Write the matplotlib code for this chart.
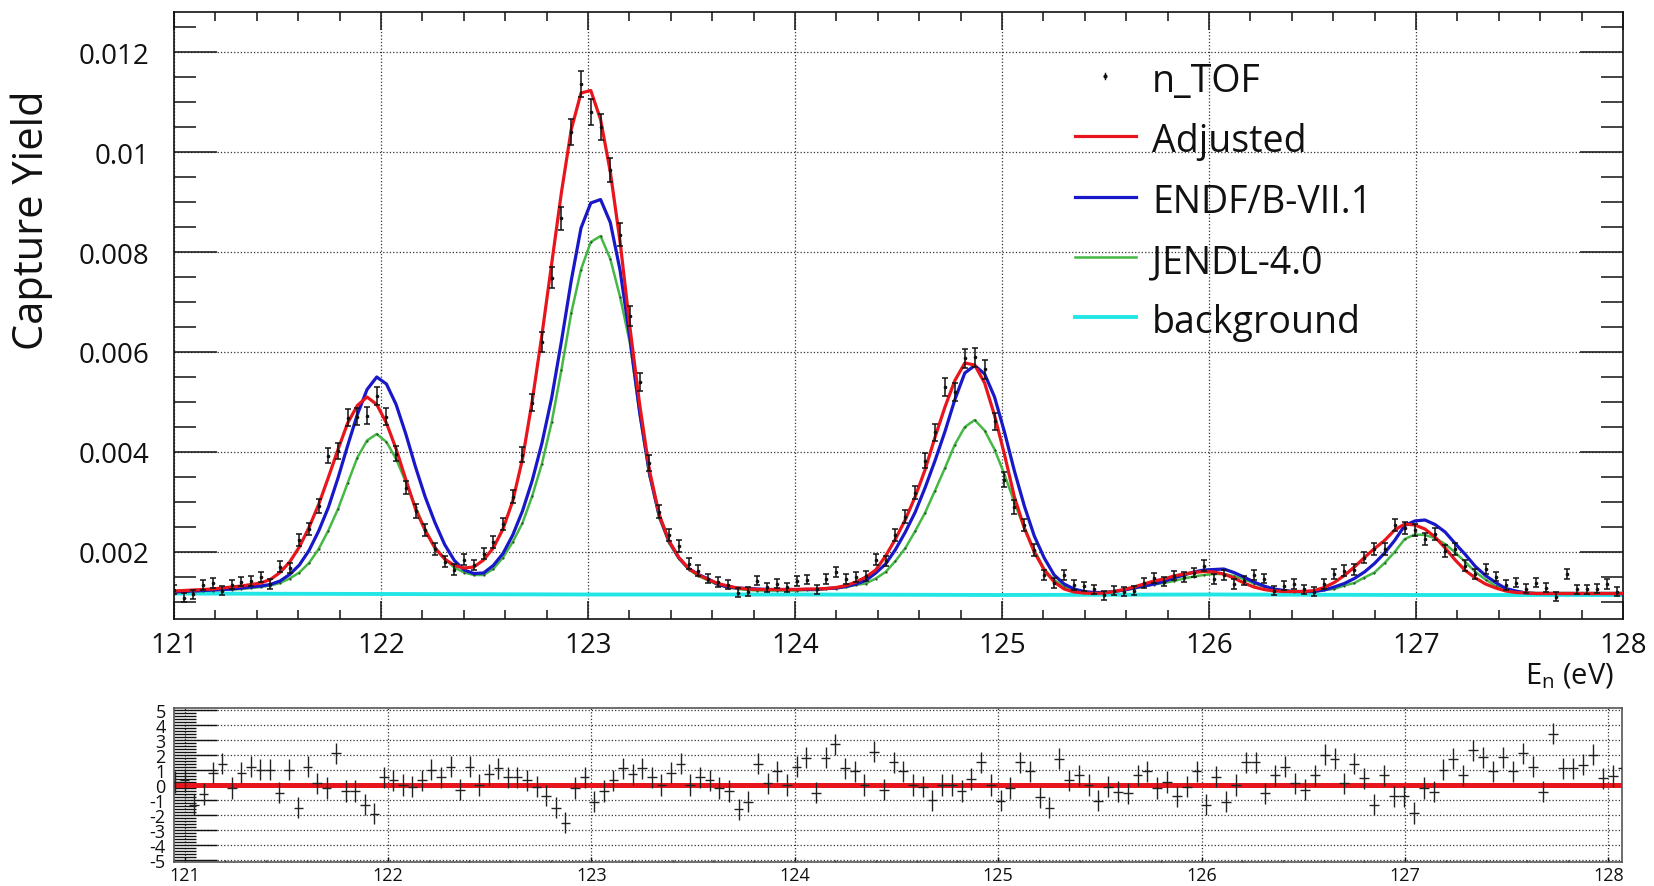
import numpy as np
import matplotlib
matplotlib.use("Agg")
import matplotlib.pyplot as plt
from matplotlib.lines import Line2D
from matplotlib.ticker import MultipleLocator, FuncFormatter
from matplotlib import font_manager

plt.rcParams['font.family'] = ['Open Sans', 'DejaVu Sans']
plt.rcParams['axes.unicode_minus'] = False
plt.rcParams['mathtext.fontset'] = 'custom'
plt.rcParams['mathtext.rm'] = 'Open Sans'

installed = {f.name for f in font_manager.fontManager.ttflist}
small_font = 'Liberation Sans Narrow' if 'Liberation Sans Narrow' in installed else 'Open Sans'

# log-spaced time-of-flight bins (bin centres, eV)
energy = np.geomspace(120.954, 128.12, 151)

# capture yield, units of 1e-4
ntof = [12.6, 12.5, 10.9, 11.6, 13.4, 13.8, 12.3, 13.5, 14.1, 14.2,
        15.0, 13.6, 17.1, 16.8, 22.5, 24.7, 29.2, 39.3, 40.2, 46.9,
        47.1, 47.3, 51.2, 47.1, 39.7, 32.9, 28.2, 24.5, 20.6, 18.1,
        16.5, 18.5, 17.4, 19.7, 22.1, 25.6, 31.1, 39.5, 49.9, 62.0,
        74.9, 86.8, 104.0, 113.7, 108.0, 105.1, 96.5, 83.5, 67.3, 54.0,
        37.8, 28.1, 23.5, 21.3, 17.7, 16.3, 14.7, 14.0, 13.5, 11.9,
        12.1, 14.3, 13.0, 13.7, 13.0, 14.2, 14.5, 12.6, 14.6, 16.0,
        14.6, 15.0, 15.2, 18.5, 18.2, 23.4, 27.1, 31.9, 38.3, 44.0,
        53.0, 52.1, 58.8, 59.0, 56.6, 46.2, 34.5, 29.0, 25.5, 20.5,
        15.4, 13.8, 15.4, 13.4, 13.2, 12.6, 11.4, 12.3, 12.1, 12.3,
        13.8, 14.8, 14.1, 15.3, 15.0, 15.9, 17.3, 14.6, 15.4, 13.6,
        14.3, 15.4, 14.7, 12.3, 13.3, 13.6, 12.6, 12.1, 13.6, 15.6,
        16.3, 16.5, 18.9, 20.6, 20.6, 25.5, 24.9, 24.5, 22.6, 23.6,
        20.3, 20.6, 17.3, 15.6, 16.6, 15.1, 13.4, 13.9, 12.7, 13.9,
        12.9, 11.1, 15.6, 12.6, 12.6, 12.7, 13.6, 12.1, 12.3, 12.6,
        11.1]
ntof_err = [0.9, 0.9, 0.85, 0.9, 0.95, 0.95, 0.9, 0.95, 0.95, 0.95,
            0.95, 0.95, 1.05, 1.05, 1.2, 1.2, 1.35, 1.55, 1.55, 1.7,
            1.7, 1.7, 1.8, 1.7, 1.55, 1.35, 1.35, 1.2, 1.2, 1.05,
            1.05, 1.05, 1.05, 1.05, 1.2, 1.2, 1.35, 1.55, 1.7, 2.0,
            2.15, 2.3, 2.6, 2.6, 2.6, 2.6, 2.4, 2.3, 2.0, 1.8,
            1.55, 1.35, 1.2, 1.2, 1.05, 1.05, 0.95, 0.95, 0.95, 0.9,
            0.9, 0.95, 0.9, 0.95, 0.9, 0.95, 0.95, 0.9, 0.95, 1.0,
            0.95, 0.95, 0.95, 1.05, 1.05, 1.2, 1.35, 1.35, 1.55, 1.7,
            1.8, 1.8, 1.9, 1.9, 1.9, 1.7, 1.55, 1.35, 1.2, 1.2,
            0.95, 0.95, 0.95, 0.95, 0.9, 0.9, 0.9, 0.9, 0.9, 0.9,
            0.95, 0.95, 0.95, 0.95, 0.95, 0.95, 1.05, 0.95, 0.95, 0.95,
            0.95, 0.95, 0.95, 0.9, 0.95, 0.95, 0.9, 0.9, 0.95, 0.95,
            1.05, 1.05, 1.05, 1.2, 1.2, 1.2, 1.2, 1.2, 1.2, 1.2,
            1.2, 1.2, 1.05, 0.95, 1.05, 0.95, 0.95, 0.95, 0.9, 0.95,
            0.9, 0.9, 0.95, 0.9, 0.9, 0.9, 0.95, 0.9, 0.9, 0.9,
            0.9]
adjusted = [12.1, 12.2, 12.3, 12.4, 12.5, 12.6, 12.8, 13.0, 13.2, 13.5,
            13.8, 14.5, 15.9, 18.0, 21.0, 24.9, 29.5, 34.9, 40.5, 45.8,
            49.3, 51.0, 49.5, 45.8, 40.6, 34.5, 28.6, 24.3, 20.8, 18.6,
            17.3, 16.8, 17.0, 18.4, 20.8, 24.6, 30.2, 38.6, 50.2, 63.5,
            77.8, 92.0, 104.5, 111.8, 112.3, 106.5, 96.0, 82.0, 65.0, 49.5,
            36.3, 27.4, 22.2, 18.9, 16.7, 15.4, 14.5, 13.7, 13.2, 12.8,
            12.6, 12.5, 12.5, 12.5, 12.5, 12.5, 12.6, 12.6, 12.7, 12.9,
            13.3, 14.0, 15.0, 16.4, 19.2, 22.6, 26.5, 31.1, 36.5, 43.0,
            49.0, 54.3, 57.8, 57.4, 53.8, 47.3, 39.5, 31.0, 24.8, 20.0,
            16.4, 14.0, 12.6, 12.0, 11.8, 11.7, 11.8, 12.1, 12.5, 13.0,
            13.6, 14.2, 14.6, 15.2, 15.6, 15.9, 16.1, 16.0, 15.6, 14.8,
            13.8, 13.0, 12.5, 12.2, 12.1, 12.1, 12.1, 12.3, 12.9, 13.9,
            15.3, 17.0, 18.9, 20.7, 22.3, 24.4, 25.6, 25.4, 24.6, 23.0,
            20.8, 18.4, 16.3, 14.8, 13.6, 12.8, 12.2, 11.9, 11.8, 11.7,
            11.7, 11.7, 11.7, 11.7, 11.7, 11.7, 11.7, 11.7, 11.7, 11.7,
            11.7]
endf = [11.9, 12.0, 12.1, 12.2, 12.3, 12.4, 12.5, 12.6, 12.8, 13.0,
        13.2, 13.5, 14.2, 15.5, 17.4, 20.3, 24.2, 28.9, 34.8, 41.3,
        47.5, 52.5, 55.0, 53.6, 49.5, 43.6, 37.0, 31.0, 25.9, 21.5,
        18.3, 16.4, 15.7, 15.8, 17.3, 19.7, 23.4, 28.2, 34.3, 41.8,
        50.9, 62.2, 74.3, 84.8, 89.8, 90.5, 85.9, 76.3, 62.8, 47.9,
        35.7, 27.2, 22.1, 18.8, 16.7, 15.5, 14.6, 13.5, 13.0, 12.8,
        12.7, 12.6, 12.5, 12.5, 12.5, 12.5, 12.5, 12.5, 12.7, 12.8,
        13.1, 13.6, 14.3, 15.8, 17.6, 20.5, 24.0, 28.0, 32.9, 38.3,
        44.1, 50.5, 55.8, 57.3, 55.6, 51.0, 44.0, 36.2, 29.2, 23.2,
        18.8, 15.4, 13.6, 12.6, 12.1, 11.9, 11.9, 12.1, 12.4, 12.8,
        13.2, 13.6, 14.1, 14.8, 15.4, 16.0, 16.4, 16.5, 16.6, 15.9,
        15.0, 14.0, 13.2, 12.6, 12.3, 12.1, 12.1, 12.1, 12.4, 13.0,
        13.7, 14.7, 16.0, 17.7, 19.8, 22.3, 25.3, 26.2, 26.4, 25.5,
        24.0, 21.7, 19.5, 17.1, 15.3, 13.9, 12.7, 12.2, 11.8, 11.7,
        11.7, 11.7, 11.7, 11.7, 11.7, 11.7, 11.7, 11.7, 11.7, 11.7,
        11.7]
jendl = [11.8, 11.9, 12.0, 12.1, 12.2, 12.3, 12.4, 12.5, 12.6, 12.8,
         13.0, 13.3, 13.8, 14.7, 15.9, 17.8, 20.6, 24.3, 28.6, 33.8,
         38.9, 42.3, 43.6, 42.0, 38.6, 34.0, 29.0, 24.5, 21.0, 18.6,
         16.9, 15.9, 15.4, 15.4, 16.6, 18.9, 22.0, 25.8, 31.2, 37.7,
         46.0, 56.5, 67.8, 76.5, 82.0, 83.2, 78.6, 71.0, 61.8, 47.5,
         35.3, 26.8, 21.8, 18.7, 16.5, 15.2, 14.3, 13.4, 12.9, 12.6,
         12.4, 12.3, 12.3, 12.3, 12.3, 12.3, 12.4, 12.4, 12.6, 12.7,
         13.0, 13.4, 13.7, 14.7, 16.0, 18.2, 20.8, 24.2, 27.9, 32.3,
         36.8, 41.5, 45.0, 46.4, 44.3, 40.5, 35.5, 29.9, 24.8, 20.4,
         16.6, 14.4, 13.1, 12.3, 11.9, 11.9, 11.9, 12.1, 12.3, 12.7,
         13.1, 13.5, 13.8, 14.2, 14.7, 15.1, 15.4, 15.6, 15.6, 15.2,
         14.6, 13.7, 13.1, 12.6, 12.3, 12.1, 12.1, 12.1, 12.4, 12.6,
         13.3, 13.8, 14.9, 15.9, 17.8, 20.0, 22.6, 23.5, 23.4, 22.8,
         21.6, 19.9, 18.0, 16.0, 14.5, 13.2, 12.5, 12.1, 11.9, 11.8,
         11.8, 11.8, 11.8, 11.8, 11.8, 11.8, 11.8, 11.8, 11.8, 11.8,
         11.8]
bkg_energy = [120.95, 122.0, 123.0, 124.0, 125.0, 126.0, 127.0, 128.12]
bkg = [11.7, 11.6, 11.5, 11.5, 11.4, 11.5, 11.4, 11.4]

# normalised residuals (data - adjusted) / error
residual = [0.2, 0.3, -1.3, -0.6, 0.8, 1.4, -0.2, 0.8, 1.2, 1.0,
            1.0, -0.5, 1.0, -1.5, 1.2, 0.1, -0.2, 2.1, -0.4, -0.4,
            -1.3, -1.9, 0.5, 0.3, 0.0, -0.1, 0.3, 1.0, 0.5, 1.2,
            -0.3, 1.2, 0.0, 0.7, 1.1, 0.5, 0.5, 0.3, -0.1, -0.7,
            -1.5, -2.5, -0.2, 0.5, -1.1, -0.4, 0.3, 1.1, 0.7, 1.1,
            0.5, 0.0, 0.8, 1.4, 0.0, 0.5, 0.3, -0.2, -0.4, -1.6,
            -1.1, 1.4, 0.1, 0.9, 0.0, 1.2, 1.8, -0.5, 1.8, 2.7,
            1.1, 0.9, 0.0, 2.2, -0.3, 1.5, 0.9, 0.0, -0.1, -1.0,
            0.0, 0.0, -0.4, 0.4, 1.5, 0.0, -1.05, -0.2, 1.5, 0.9,
            -0.8, -1.5, 1.75, 0.3, 0.65, 0.0, -1.05, -0.1, -0.45, -0.55,
            0.65, 0.9, -0.2, 0.2, -0.75, -0.1, 0.9, -1.3, 0.55, -1.1,
            0.0, 1.5, 1.5, -0.55, 0.65, 1.2, 0.1, -0.3, 0.65, 2.0,
            1.75, 0.1, 1.4, 0.45, -1.3, 0.65, -0.75, -0.75, -1.85, -0.2,
            -0.45, 1.0, 1.75, 0.65, 2.3, 1.85, 0.9, 1.85, 0.9, 2.1,
            1.2, -0.45, 3.4, 1.1, 1.1, 1.35, 2.0, 0.45, 0.6, 1.1,
            -0.75]
residual_err = 0.7
zero_line = [0.0, 0.0]

RED, BLUE, GREEN, CYAN = '#e8161c', '#1818c8', '#45b845', '#22e6e6'
W, H = 1654, 887


def fx(x):
    return x / W


def fy(y):
    return 1 - y / H


def box(l, t, r, b):
    return [fx(l), fy(b), (r - l) / W, (b - t) / H]


fig = plt.figure(figsize=(W / 100, H / 100), dpi=100)
ax = fig.add_axes(box(174, 13, 1623, 620))
rax = fig.add_axes(box(174, 709, 1622, 863))

scale = 1e-4
ax.plot(bkg_energy, np.array(bkg) * scale, color=CYAN, lw=2.8, zorder=2)
ax.plot(energy, np.array(jendl) * scale, color=GREEN, lw=1.8, zorder=3,
        marker='o', ms=1.6, mfc='#2a4a2a', mec='none')
ax.plot(energy, np.array(endf) * scale, color=BLUE, lw=2.3, zorder=3)
ax.plot(energy, np.array(adjusted) * scale, color=RED, lw=2.3, zorder=4)
ax.errorbar(energy, np.array(ntof) * scale, yerr=np.array(ntof_err) * scale,
            fmt='o', ms=1.6, color='#111111', elinewidth=1.1, capsize=2.3,
            capthick=1.1, zorder=5)

ax.set_xlim(121, 128)
ax.set_ylim(0.00066, 0.0128)
ax.xaxis.set_major_locator(MultipleLocator(1))
ax.xaxis.set_minor_locator(MultipleLocator(0.2))
ax.yaxis.set_major_locator(MultipleLocator(0.002))
ax.yaxis.set_minor_locator(MultipleLocator(0.0005))
ax.yaxis.set_major_formatter(FuncFormatter(lambda v, p: f'{v:g}'))
ax.tick_params(which='both', direction='in', top=True, right=True, width=1.1,
               colors='#111111', labelsize=20)
ax.tick_params(axis='y', which='major', length=31, pad=18)
ax.tick_params(axis='y', which='minor', length=15.5)
ax.tick_params(axis='x', which='major', length=13, pad=9)
ax.tick_params(axis='x', which='minor', length=6.5)
ax.grid(which='major', linestyle=':', color='#333333', lw=0.9)
for s in ax.spines.values():
    s.set_linewidth(1.2)
    s.set_color('#111111')

fig.text(fx(32), fy(220), 'Capture Yield', rotation=90, ha='center',
         va='center', fontsize=30, color='#111111')
fig.text(fx(1614), fy(684), r'E$_{\mathrm{n}}$ (eV)', ha='right',
         va='baseline', fontsize=21, color='#111111')

# legend
rows = ['n_TOF', 'Adjusted', 'ENDF/B-VII.1', 'JENDL-4.0', 'background']
row_colors = [None, RED, BLUE, GREEN, CYAN]
row_widths = [0, 2.3, 2.3, 1.8, 2.8]
for i, (label, c, lw) in enumerate(zip(rows, row_colors, row_widths)):
    base = 92 + 60.3 * i
    mid = base - 15
    if c is None:
        fig.lines.append(Line2D([fx(1105), fx(1105)], [fy(mid - 3), fy(mid + 3)],
                                transform=fig.transFigure, color='#111111', lw=1))
        fig.lines.append(Line2D([fx(1105)], [fy(mid)], transform=fig.transFigure,
                                marker='o', ms=2, color='#111111'))
    else:
        fig.lines.append(Line2D([fx(1075), fx(1136)], [fy(mid), fy(mid)],
                                transform=fig.transFigure, color=c, lw=lw))
    fig.text(fx(1152), fy(base), label, fontsize=27, va='baseline',
             color='#111111')

# residual panel
half_width = np.gradient(energy) / 2
rax.plot([energy[0], energy[-1]], zero_line, color=RED, lw=3.6, zorder=2)
rax.errorbar(energy, residual, xerr=half_width, yerr=residual_err, fmt='none',
             ecolor='#222222', elinewidth=1.0, zorder=3)
rax.set_xlim(120.948, 128.067)
rax.set_ylim(-5.1, 5.1)
rax.xaxis.set_major_locator(MultipleLocator(1))
rax.xaxis.set_minor_locator(MultipleLocator(0.2))
rax.yaxis.set_major_locator(MultipleLocator(1))
rax.yaxis.set_minor_locator(MultipleLocator(0.2))
rax.tick_params(which='both', direction='in', top=False, right=False, width=1.0,
                colors='#111111', labelsize=13)
rax.tick_params(axis='y', which='major', length=31, pad=6)
rax.tick_params(axis='y', which='minor', length=15.5)
rax.tick_params(axis='x', which='major', length=3.5, pad=3)
rax.tick_params(axis='x', which='minor', length=1.8)
for lab in rax.get_xticklabels() + rax.get_yticklabels():
    lab.set_fontfamily([small_font, 'DejaVu Sans'])
rax.grid(which='major', linestyle=':', color='#333333', lw=0.9)
for s in rax.spines.values():
    s.set_linewidth(1.2)
    s.set_color('#555555')

fig.savefig('out.png', dpi=100, facecolor='white')
